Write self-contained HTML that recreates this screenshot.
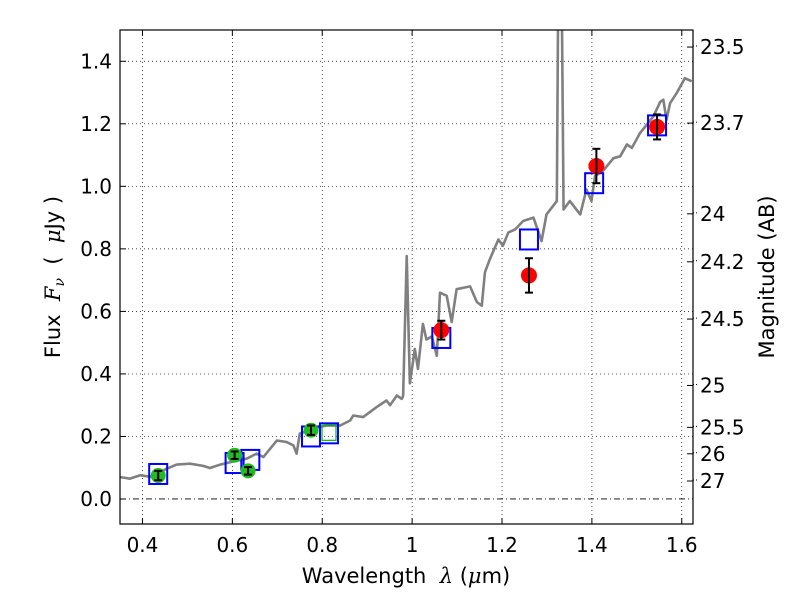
<!DOCTYPE html>
<html><head><meta charset="utf-8"><style>
body{margin:0;background:#fff;}
svg{display:block;font-family:"DejaVu Sans","Liberation Sans",sans-serif;}
</style></head><body>
<svg id="chart" width="800" height="600" viewBox="0 0 800 600" xmlns="http://www.w3.org/2000/svg">
<rect width="800" height="600" fill="#fff"/>
<g id="grid"></g>
<g id="spec"></g>
<g id="marks"></g>
<rect x="120" y="30" width="573" height="494" fill="none" stroke="#000" stroke-width="1.2"/>
<g id="axes"></g>
<text x="406" y="583" font-size="21" text-anchor="middle">Wavelength&#160;&#160;<tspan font-family="DejaVu Serif, serif" font-style="italic">λ</tspan> (<tspan font-family="DejaVu Serif, serif" font-style="italic">μ</tspan>m)</text>
<text transform="translate(60,277) rotate(-90)" font-size="21" text-anchor="middle">Flux&#160;&#160;<tspan font-family="DejaVu Serif, serif" font-style="italic">F</tspan><tspan font-family="DejaVu Serif, serif" font-style="italic" font-size="14" dy="4">ν</tspan><tspan dy="-4">&#160;&#160;(&#160;&#160;</tspan><tspan font-family="DejaVu Serif, serif" font-style="italic">μ</tspan>Jy )</text>
<text transform="translate(774,277) rotate(-90)" font-size="21" text-anchor="middle">Magnitude (AB)</text>
</svg>
<script>
const specX=[0.35,0.372,0.395,0.417,0.454,0.476,0.506,0.535,0.55,0.573,0.602,0.632,0.654,0.669,0.699,0.721,0.736,0.743,0.75,0.78,0.81,0.84,0.862,0.869,0.891,0.921,0.943,0.951,0.966,0.977,0.98,0.988,0.995,1.006,1.013,1.024,1.032,1.044,1.055,1.062,1.077,1.088,1.099,1.129,1.144,1.155,1.162,1.173,1.192,1.202,1.214,1.229,1.247,1.27,1.288,1.299,1.322,1.325,1.329,1.333,1.337,1.351,1.374,1.388,1.399,1.407,1.425,1.448,1.463,1.478,1.489,1.507,1.537,1.552,1.559,1.566,1.574,1.589,1.607,1.622];
const specY=[0.07,0.065,0.076,0.071,0.097,0.11,0.113,0.106,0.099,0.11,0.12,0.129,0.145,0.134,0.187,0.182,0.171,0.145,0.209,0.225,0.235,0.235,0.251,0.267,0.262,0.294,0.315,0.3,0.331,0.32,0.33,0.777,0.37,0.48,0.416,0.56,0.51,0.52,0.458,0.66,0.65,0.566,0.671,0.68,0.63,0.618,0.725,0.767,0.83,0.81,0.852,0.862,0.889,0.9,0.825,0.91,0.953,1.6,1.6,1.6,0.926,0.953,0.91,0.99,0.953,1.033,1.05,1.09,1.096,1.134,1.123,1.17,1.224,1.27,1.277,1.213,1.266,1.299,1.346,1.336];
const redX=[1.065,1.26,1.41,1.545];
const redY=[0.54,0.715,1.065,1.19];
const redErr=[0.03,0.055,0.055,0.04];
const greenX=[0.435,0.605,0.635,0.775];
const greenY=[0.075,0.14,0.09,0.22];
const greenErr=[0.015,0.012,0.012,0.015];
const boxX=[0.435,0.605,0.64,0.775,0.815,1.065,1.26,1.405,1.545];
const boxY=[0.08,0.115,0.125,0.2,0.21,0.515,0.83,1.01,1.195];
const xTicks=[0.4,0.6,0.8,1,1.2,1.4,1.6];
const xTickLabels=["0.4","0.6","0.8","1","1.2","1.4","1.6"];
const yTicks=[0,0.2,0.4,0.6,0.8,1.0,1.2,1.4];
const yTickLabels=["0.0","0.2","0.4","0.6","0.8","1.0","1.2","1.4"];
const magTicks=[23.5,23.7,24,24.2,24.5,25,25.5,26,27];
const magLabels=["23.5","23.7","24","24.2","24.5","25","25.5","26","27"];

const X0=120,X1=693,Y0=524,Y1=30,xmin=0.35,xmax=1.625,ymin=-0.08,ymax=1.5;
const sx=v=>X0+(v-xmin)/(xmax-xmin)*(X1-X0);
const sy=v=>Y0-(v-ymin)/(ymax-ymin)*(Y0-Y1);
const NS="http://www.w3.org/2000/svg";
function mk(tag,attrs,parent){const e=document.createElementNS(NS,tag);for(const k in attrs)e.setAttribute(k,attrs[k]);parent.appendChild(e);return e;}
const grid=document.getElementById('grid'),axes=document.getElementById('axes'),spec=document.getElementById('spec'),marks=document.getElementById('marks');
xTicks.forEach((t,i)=>{const x=sx(t);
 const g=mk('line',{x1:x,x2:x,y1:Y1,y2:Y0,stroke:'#000','stroke-width':0.7,'stroke-dasharray':'1,3'},grid);
 
 
 mk('line',{x1:x,x2:x,y1:Y0,y2:Y0-6,stroke:'#000'},axes);
 mk('line',{x1:x,x2:x,y1:Y1,y2:Y1+6,stroke:'#000'},axes);
 const tx=mk('text',{x:x,y:Y0+28,'font-size':20,'text-anchor':'middle'},axes);tx.textContent=xTickLabels[i];
 
 });
yTicks.forEach((t,i)=>{const y=sy(t);
 const g=mk('line',{x1:X0,x2:X1,y1:y,y2:y,stroke:'#000','stroke-width':t===0?0.9:0.7,'stroke-dasharray':t===0?'6,3,1,3':'1,3'},grid);
 
 
 mk('line',{x1:X0,x2:X0+6,y1:y,y2:y,stroke:'#000'},axes);
 const tx=mk('text',{x:X0-8,y:y+7,'font-size':20,'text-anchor':'end'},axes);tx.textContent=yTickLabels[i];
 
 });
magTicks.forEach((m,i)=>{const f=Math.pow(10,(23.9-m)/2.5);const y=sy(f);
 mk('line',{x1:X1,x2:X1-6,y1:y,y2:y,stroke:'#000'},axes);
 mk('line',{x1:X1,x2:X1+4,y1:y-1,y2:y-1,stroke:'#000','stroke-dasharray':'1,2'},axes);
 const tx=mk('text',{x:X1+7,y:y+7,'font-size':20},axes);tx.textContent=magLabels[i];
 
 });
const clip=mk('clipPath',{id:'pc'},document.getElementById('chart'));mk('rect',{x:X0,y:Y1,width:X1-X0,height:Y0-Y1},clip);
const pl=mk('polyline',{points:specX.map((x,i)=>sx(x)+','+sy(specY[i])).join(' '),fill:'none',stroke:'#808080','stroke-width':2.6,'stroke-linejoin':'round','clip-path':'url(#pc)'},spec);


boxX.forEach((x,i)=>{const r=mk('rect',{x:sx(x)-9,y:sy(boxY[i])-10,width:18,height:20,fill:'none',stroke:'#0000ff','stroke-width':2},marks);
 
 });
const gs=mk('rect',{x:sx(0.815)-7,y:sy(0.21)-8,width:14,height:15,fill:'none',stroke:'#00bb00','stroke-width':1.2},marks);


function pt(xs,ys,es,col,r,name){xs.forEach((x,i)=>{const cx=sx(x),cy=sy(ys[i]);
 const c=mk('circle',{cx:cx,cy:cy,r:r,fill:col},marks);
 
 
 const t=sy(ys[i]+es[i]),b=sy(ys[i]-es[i]);
 mk('line',{x1:cx,x2:cx,y1:t,y2:b,stroke:'#000','stroke-width':2},marks);
 mk('line',{x1:cx-4,x2:cx+4,y1:t,y2:t,stroke:'#000','stroke-width':2},marks);
 mk('line',{x1:cx-4,x2:cx+4,y1:b,y2:b,stroke:'#000','stroke-width':2},marks);});}
pt(greenX,greenY,greenErr,'#22bb22',7.5,'green-photometry-point');
pt(redX,redY,redErr,'#ff0000',8,'red-photometry-point');
</script>
</body></html>
